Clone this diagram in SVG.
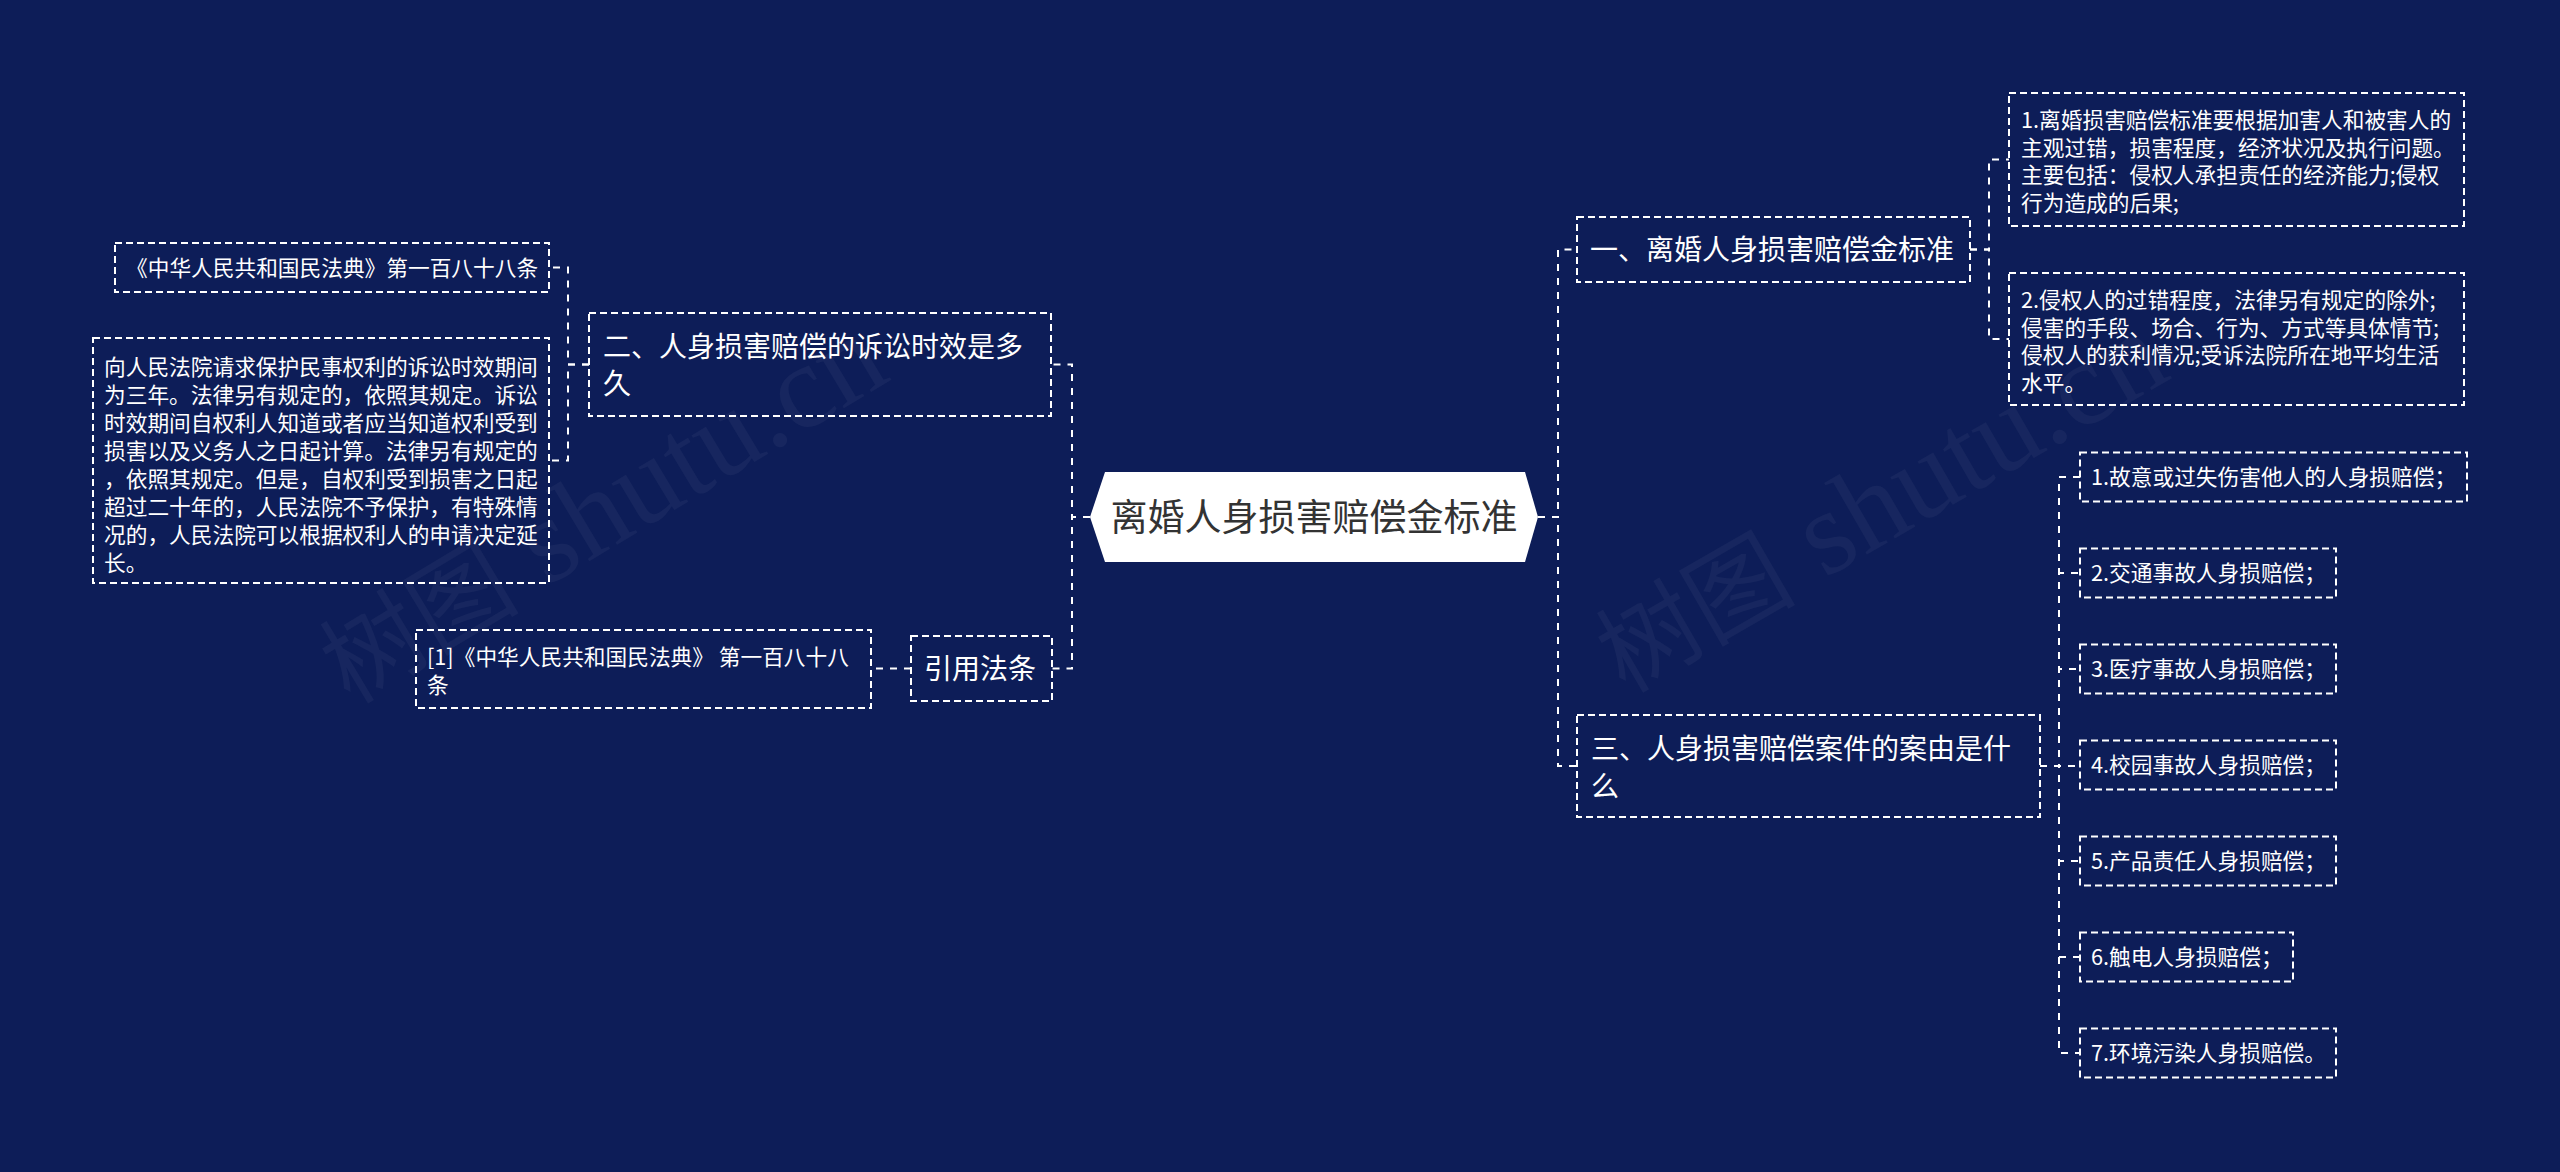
<svg xmlns="http://www.w3.org/2000/svg" width="2560" height="1172" viewBox="0 0 2560 1172">
<style>
.bg{fill:#0d1d58}
.box{fill:none;stroke:#ffffff;stroke-width:2;stroke-dasharray:7 4}
.link{fill:none;stroke:#ffffff;stroke-width:2;stroke-dasharray:7 7}
.t1{font-family:"Noto Sans CJK SC","Noto Sans",sans-serif;font-size:28px;fill:#ffffff}
.t2{font-family:"Noto Sans CJK SC","Noto Sans",sans-serif;font-size:21.7px;fill:#ffffff}
.troot{font-family:"Noto Sans CJK SC","Noto Sans",sans-serif;font-size:37px;fill:#333333}
.wm{font-family:"Liberation Serif","Noto Sans CJK SC",serif;font-size:100px;fill:#ffffff;fill-opacity:0.045}
.wml{font-size:120px}
</style>
<rect class="bg" x="0" y="0" width="2560" height="1172"/>
<g id="watermark">
<text class="wm" transform="translate(350,705) rotate(-31)">树图<tspan class="wml"> shutu.cn</tspan></text>
<text class="wm" transform="translate(1625,694) rotate(-30)">树图<tspan class="wml"> shutu.cn</tspan></text>
</g>
<g id="connectors">
<path class="link" d="M1090 517 H1072 V364.5 H1051"/>
<path class="link" d="M1090 517 H1072 V668.5 H1052"/>
<path class="link" d="M589 364.5 H568 V267.5 H549"/>
<path class="link" d="M589 364.5 H568 V460.5 H549"/>
<path class="link" d="M911 668.5 H871"/>
<path class="link" d="M1538 517 H1558 V249.5 H1577"/>
<path class="link" d="M1538 517 H1558 V766 H1577"/>
<path class="link" d="M1970 249.5 H1989 V159.5 H2009"/>
<path class="link" d="M1970 249.5 H1989 V339 H2009"/>
<path class="link" d="M2040 766 H2059 V477 H2080"/>
<path class="link" d="M2040 766 H2059 V573 H2080"/>
<path class="link" d="M2040 766 H2059 V669 H2080"/>
<path class="link" d="M2040 766 H2080"/>
<path class="link" d="M2040 766 H2059 V861 H2080"/>
<path class="link" d="M2040 766 H2059 V957 H2080"/>
<path class="link" d="M2040 766 H2059 V1053 H2080"/>
</g>
<g id="root">
<polygon points="1090,517 1105,472 1525,472 1538,517 1525,562 1105,562" fill="#ffffff"/>
<text class="troot" x="1314" y="531" text-anchor="middle">离婚人身损害赔偿金标准</text>
</g>
<g id="n-er">
<rect class="box" x="589" y="313" width="462" height="103"/>
<text class="t1" x="603" y="357">二、人身损害赔偿的诉讼时效是多</text>
<text class="t1" x="603" y="394">久</text>
</g>
<g id="n-er-a">
<rect class="box" x="115" y="243" width="434" height="49"/>
<text class="t2" x="126" y="276">《中华人民共和国民法典》第一百八十八条</text>
</g>
<g id="n-er-b">
<rect class="box" x="93" y="338" width="456" height="245"/>
<text class="t2" x="104" y="375">向人民法院请求保护民事权利的诉讼时效期间</text>
<text class="t2" x="104" y="403">为三年。法律另有规定的，依照其规定。诉讼</text>
<text class="t2" x="104" y="431">时效期间自权利人知道或者应当知道权利受到</text>
<text class="t2" x="104" y="459">损害以及义务人之日起计算。法律另有规定的</text>
<text class="t2" x="104" y="487">，依照其规定。但是，自权利受到损害之日起</text>
<text class="t2" x="104" y="515">超过二十年的，人民法院不予保护，有特殊情</text>
<text class="t2" x="104" y="543">况的，人民法院可以根据权利人的申请决定延</text>
<text class="t2" x="104" y="571">长。</text>
</g>
<g id="n-cite">
<rect class="box" x="911" y="636" width="141" height="65"/>
<text class="t1" x="924" y="679">引用法条</text>
</g>
<g id="n-cite-a">
<rect class="box" x="416" y="630" width="455" height="78"/>
<text class="t2" x="427" y="665">[1]《中华人民共和国民法典》 第一百八十八</text>
<text class="t2" x="427" y="693">条</text>
</g>
<g id="n-yi">
<rect class="box" x="1577" y="217" width="393" height="65"/>
<text class="t1" x="1590" y="260">一、离婚人身损害赔偿金标准</text>
</g>
<g id="n-yi-a">
<rect class="box" x="2009" y="93" width="455" height="133"/>
<text class="t2" x="2021" y="128">1.离婚损害赔偿标准要根据加害人和被害人的</text>
<text class="t2" x="2021" y="156">主观过错，损害程度，经济状况及执行问题。</text>
<text class="t2" x="2021" y="183">主要包括：侵权人承担责任的经济能力;侵权</text>
<text class="t2" x="2021" y="211">行为造成的后果;</text>
</g>
<g id="n-yi-b">
<rect class="box" x="2009" y="273" width="455" height="132"/>
<text class="t2" x="2021" y="308">2.侵权人的过错程度，法律另有规定的除外;</text>
<text class="t2" x="2021" y="336">侵害的手段、场合、行为、方式等具体情节;</text>
<text class="t2" x="2021" y="363">侵权人的获利情况;受诉法院所在地平均生活</text>
<text class="t2" x="2021" y="391">水平。</text>
</g>
<g id="n-san">
<rect class="box" x="1577" y="715" width="463" height="102"/>
<text class="t1" x="1591" y="759">三、人身损害赔偿案件的案由是什</text>
<text class="t1" x="1591" y="797">么</text>
</g>
<g id="n-san-1">
<rect class="box" x="2080" y="452.5" width="387" height="49"/>
<text class="t2" x="2091" y="485">1.故意或过失伤害他人的人身损赔偿；</text>
</g>
<g id="n-san-2">
<rect class="box" x="2080" y="548.5" width="256" height="49"/>
<text class="t2" x="2091" y="581">2.交通事故人身损赔偿；</text>
</g>
<g id="n-san-3">
<rect class="box" x="2080" y="644.5" width="256" height="49"/>
<text class="t2" x="2091" y="677">3.医疗事故人身损赔偿；</text>
</g>
<g id="n-san-4">
<rect class="box" x="2080" y="740.5" width="256" height="49"/>
<text class="t2" x="2091" y="773">4.校园事故人身损赔偿；</text>
</g>
<g id="n-san-5">
<rect class="box" x="2080" y="836.5" width="256" height="49"/>
<text class="t2" x="2091" y="869">5.产品责任人身损赔偿；</text>
</g>
<g id="n-san-6">
<rect class="box" x="2080" y="932.5" width="213" height="49"/>
<text class="t2" x="2091" y="965">6.触电人身损赔偿；</text>
</g>
<g id="n-san-7">
<rect class="box" x="2080" y="1028.5" width="256" height="49"/>
<text class="t2" x="2091" y="1061">7.环境污染人身损赔偿。</text>
</g>
</svg>
